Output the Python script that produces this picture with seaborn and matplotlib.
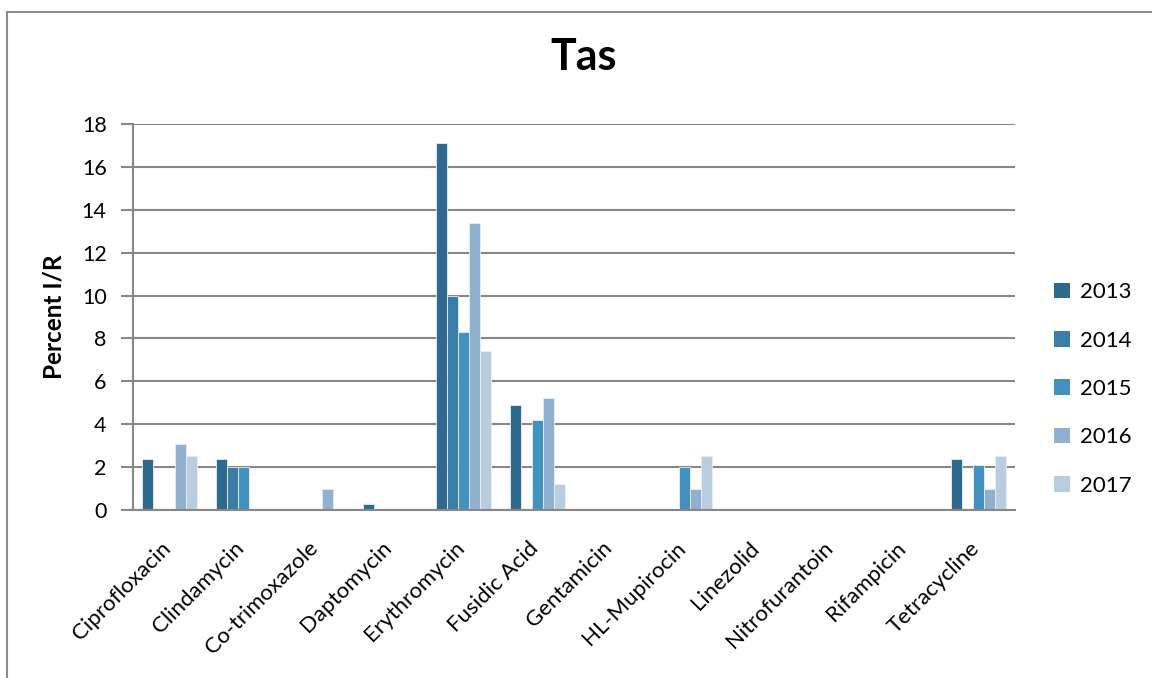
import matplotlib
matplotlib.use("Agg")
import matplotlib.pyplot as plt
from matplotlib.patches import Rectangle, Patch
from matplotlib.transforms import ScaledTranslation
import seaborn as sns
import pandas as pd

# Antibiotic resistance, Tasmania, percent intermediate/resistant by year
antibiotics = ["Ciprofloxacin", "Clindamycin", "Co-trimoxazole", "Daptomycin",
               "Erythromycin", "Fusidic Acid", "Gentamicin", "HL-Mupirocin",
               "Linezolid", "Nitrofurantoin", "Rifampicin", "Tetracycline"]
years = ["2013", "2014", "2015", "2016", "2017"]

pct_2013 = [2.4, 2.4, 0.0, 0.3, 17.1, 4.9, 0.0, 0.0, 0.0, 0.0, 0.0, 2.4]
pct_2014 = [0.0, 2.0, 0.0, 0.0, 10.0, 0.0, 0.0, 0.0, 0.0, 0.0, 0.0, 0.0]
pct_2015 = [0.0, 2.0, 0.0, 0.0, 8.3, 4.2, 0.0, 2.0, 0.0, 0.0, 0.0, 2.1]
pct_2016 = [3.1, 0.0, 1.0, 0.0, 13.4, 5.2, 0.0, 1.0, 0.0, 0.0, 0.0, 1.0]
pct_2017 = [2.5, 0.0, 0.0, 0.0, 7.4, 1.2, 0.0, 2.5, 0.0, 0.0, 0.0, 2.5]

year_colors = ["#2E6A8D", "#3A7EA8", "#4391BF", "#8FB1CF", "#BACDDF"]

series = [pct_2013, pct_2014, pct_2015, pct_2016, pct_2017]
df = pd.DataFrame({
    "Antibiotic": antibiotics * len(years),
    "Year": [y for y in years for _ in antibiotics],
    "Percent": [v for s in series for v in s],
})

sns.set_theme(style="white")
plt.rcParams["font.family"] = ["Lato", "DejaVu Sans"]
plt.rcParams["text.color"] = "black"
plt.rcParams["axes.labelcolor"] = "black"

fig = plt.figure(figsize=(11.52, 6.78), dpi=100)
ax = fig.add_axes([133 / 1152, 1 - 510 / 678, (1015 - 133) / 1152, (510 - 124) / 678])

sns.barplot(data=df, x="Antibiotic", y="Percent", hue="Year", order=antibiotics,
            hue_order=years, palette=year_colors, saturation=1, width=0.75, ax=ax,
            edgecolor="#E8EEF4", linewidth=0.6, legend=False)

grid_color = "#878787"
ax.set_ylim(0, 18)
ax.set_xlim(-0.5, len(antibiotics) - 0.5)
ax.set_yticks(range(0, 19, 2))
ax.yaxis.grid(True, color=grid_color, linewidth=1.5)
ax.set_axisbelow(True)
for side in ["top", "right"]:
    ax.spines[side].set_visible(False)
ax.spines["left"].set_color(grid_color)
ax.spines["left"].set_linewidth(1.5)
ax.spines["bottom"].set_color(grid_color)
ax.spines["bottom"].set_linewidth(1.5)
ax.tick_params(axis="y", which="major", left=True, length=9, width=1.5,
               color=grid_color, pad=10, labelcolor="black")
ax.tick_params(axis="x", bottom=False, pad=14, labelcolor="black")
plt.setp(ax.get_yticklabels(), fontsize=15.5)
plt.setp(ax.get_xticklabels(), fontsize=16, rotation=45, ha="right",
         rotation_mode="anchor")
# nudge the slanted category labels so they end at the group centre
shift = ScaledTranslation(-9 / 100, 0, fig.dpi_scale_trans)
for lbl in ax.get_xticklabels():
    lbl.set_transform(lbl.get_transform() + shift)

ax.set_xlabel("")
ax.set_ylabel("Percent I/R", fontsize=17.5, fontweight="bold", labelpad=12)

fig.suptitle("Tas", x=0.507, y=0.945, fontsize=31, fontweight="bold", color="black")

handles = [Patch(facecolor=c, edgecolor="none") for c in year_colors]
fig.legend(handles, years, loc="center left", bbox_to_anchor=(1034 / 1152, 1 - 389 / 678),
           frameon=False, fontsize=16, handlelength=0.7, handleheight=0.7,
           handletextpad=0.45, labelspacing=1.28)

# chart-area border
fig.patches.append(Rectangle((7 / 1152, -0.05), 1.1, 1 - 12 / 678 + 0.05,
                             transform=fig.transFigure, fill=False,
                             edgecolor="#8C8C8C", linewidth=1.5))

fig.savefig("out.png", dpi=100)
